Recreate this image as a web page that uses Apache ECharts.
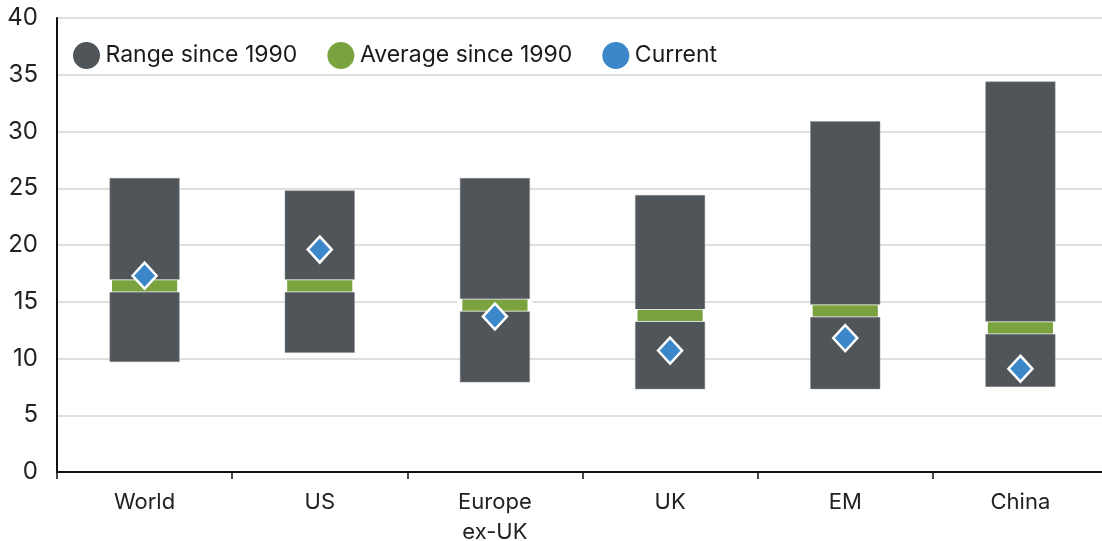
<!DOCTYPE html>
<html>
<head>
<meta charset="utf-8">
<script src="https://cdn.jsdelivr.net/npm/echarts@6/dist/echarts.min.js"></script>
<style>
  html, body { margin: 0; padding: 0; background: #fff; }
  #chart { width: 1102px; height: 541px; }
</style>
</head>
<body>
<div id="chart"></div>
<script>
const categories = ["World", "US", "Europe\nex-UK", "UK", "EM", "China"];
const rangeMin = [9.7, 10.5, 7.9, 7.3, 7.3, 7.5];
const rangeMax = [25.9, 24.8, 25.9, 24.4, 30.9, 34.4];
const average = [16.4, 16.4, 14.7, 13.8, 14.2, 12.7];
const current = [17.3, 19.6, 13.7, 10.7, 11.8, 9.1];

const rangeSpan = rangeMax.map((v, i) => +(v - rangeMin[i]).toFixed(2));

const chart = echarts.init(document.getElementById("chart"));

const fontFamily = "Inter, Roboto, 'Liberation Sans', sans-serif";

chart.setOption({
    animation: false,
    textStyle: { fontFamily },
    grid: { left: 57, width: 1051, top: 18, bottom: 69, outerBoundsMode: "none" },
    legend: {
        data: ["Range since 1990", "Average since 1990", "Current"],
        left: 68,
        top: 37,
        icon: "circle",
        itemWidth: 28,
        itemHeight: 27,
        itemGap: 30,
        itemStyle: { borderWidth: 0 },
        textStyle: { fontSize: 23, color: "#1a1a1a", fontFamily }
    },
    xAxis: {
        type: "category",
        data: categories,
        axisLine: { lineStyle: { color: "#111", width: 2 } },
        axisTick: { show: true, length: 7, lineStyle: { color: "#111", width: 1.5 } },
        axisLabel: { fontSize: 22, color: "#222", margin: 15, lineHeight: 30 }
    },
    yAxis: {
        type: "value",
        min: 0,
        max: 40,
        interval: 5,
        axisLine: { show: true, lineStyle: { color: "#111", width: 2 } },
        axisTick: { show: false },
        splitLine: { lineStyle: { color: "#d4d4d4", width: 1.5 } },
        axisLabel: { fontSize: 24, color: "#222", margin: 19 }
    },
    series: [
        {
            name: "base",
            type: "bar",
            stack: "range",
            data: rangeMin,
            barWidth: 70,
            itemStyle: { color: "transparent" },
            silent: true
        },
        {
            name: "Range since 1990",
            type: "bar",
            stack: "range",
            data: rangeSpan,
            barWidth: 70,
            itemStyle: { color: "#50555a", borderColor: "#8a8f94", borderWidth: 0.5 }
        },
        {
            name: "Average since 1990",
            type: "scatter",
            data: average,
            symbol: "rect",
            symbolSize: [70, 12],
            z: 5,
            itemStyle: { color: "#7aa33f", borderColor: "#fff", borderWidth: 2, opacity: 1 }
        },
        {
            name: "Current",
            type: "scatter",
            data: current,
            symbol: "diamond",
            symbolSize: [24, 26],
            z: 6,
            itemStyle: { color: "#3b87c9", borderColor: "#fff", borderWidth: 2.5, opacity: 1 }
        }
    ]
});
</script>
</body>
</html>
